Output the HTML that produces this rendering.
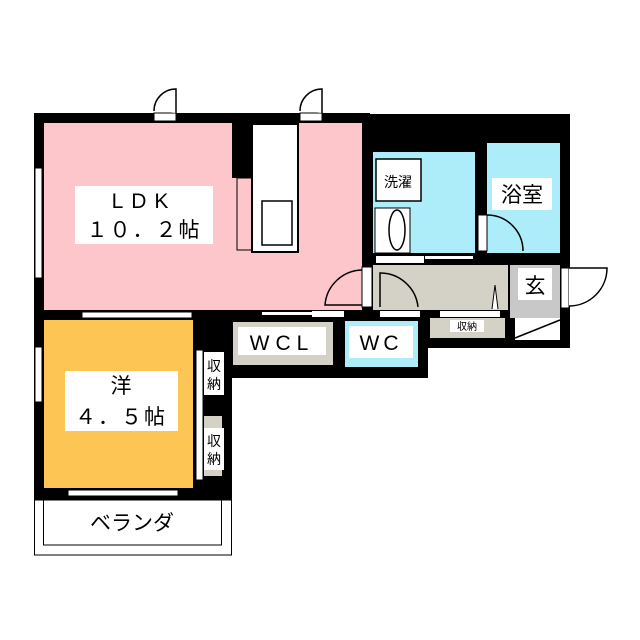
<!DOCTYPE html>
<html><head><meta charset="utf-8"><style>
html,body{margin:0;padding:0;background:#fff}
svg{display:block}
text{font-family:"Liberation Sans","Noto Sans CJK JP",sans-serif;fill:#000}
</style></head><body>
<svg width="640" height="640" viewBox="0 0 640 640" xmlns="http://www.w3.org/2000/svg">
<!-- black masses -->
<rect x="34" y="113" width="336" height="210" fill="#000"/>
<rect x="360" y="114" width="210" height="234" fill="#000"/>
<rect x="222" y="312" width="206" height="66" fill="#000"/>
<rect x="34" y="312" width="198" height="190" fill="#000"/>
<!-- LDK -->
<rect x="44" y="123" width="318" height="187" fill="#fcc6cb"/>
<rect x="232" y="123" width="20" height="55" fill="#000"/>
<rect x="237" y="178" width="16" height="72" fill="#fcc6cb" stroke="#000" stroke-width="1"/>
<rect x="252" y="124" width="46" height="128" fill="#fff" stroke="#000" stroke-width="2"/>
<rect x="262" y="201" width="30" height="44" fill="#fff" stroke="#000" stroke-width="1.5"/>
<rect x="75" y="186" width="138" height="58" fill="#fff"/>
<text x="144" y="208" font-size="21" text-anchor="middle" letter-spacing="8">LDK</text>
<text x="144" y="237" font-size="21" text-anchor="middle" letter-spacing="2">１０．２帖</text>
<!-- top doors -->
<rect x="154" y="113" width="22" height="8" fill="#fff" stroke="#000"/>
<path d="M176 113 V89 A22 22 0 0 0 154 111" fill="#fff" stroke="#000" stroke-width="1.5"/>
<rect x="300" y="113" width="22" height="8" fill="#fff" stroke="#000"/>
<path d="M322 113 V89 A22 22 0 0 0 300 111" fill="#fff" stroke="#000" stroke-width="1.5"/>
<!-- LDK windows -->
<rect x="35" y="168" width="7" height="110" fill="#fff" stroke="#000"/>
<rect x="82" y="312" width="110" height="6" fill="#fff" stroke="#000"/>
<rect x="35" y="347" width="7" height="55" fill="#fff" stroke="#000"/>
<rect x="68" y="490" width="110" height="6" fill="#fff" stroke="#000"/>
<!-- LDK door to hall -->
<path d="M362 270 A38 38 0 0 0 325 305 L362 305" fill="none" stroke="#000" stroke-width="1.5"/>
<rect x="362" y="267" width="10" height="40" fill="#fff" stroke="#000"/>
<!-- laundry -->
<rect x="373" y="152" width="102" height="101" fill="#acedf9"/>
<rect x="376" y="159" width="45" height="42" fill="#fff" stroke="#000" stroke-width="1.5"/>
<text x="398" y="187" font-size="14" text-anchor="middle">洗濯</text>
<rect x="375" y="208" width="35" height="45" fill="#fff" stroke="#000"/>
<ellipse cx="397" cy="230" rx="8" ry="20" fill="none" stroke="#000" stroke-width="1.5"/>
<rect x="376" y="256" width="48" height="7" fill="#fff"/>
<rect x="425" y="256" width="48" height="3" fill="#fff"/>
<!-- bath -->
<rect x="487" y="143" width="73" height="110" fill="#acedf9"/>
<rect x="492" y="178" width="60" height="32" fill="#fff"/>
<text x="522" y="202" font-size="21" text-anchor="middle">浴室</text>
<rect x="478" y="215" width="9" height="36" fill="#fff" stroke="#000"/>
<path d="M487 215 A36 36 0 0 1 523 251" fill="none" stroke="#000" stroke-width="1.5"/>
<!-- hall -->
<rect x="373" y="265" width="135" height="45" fill="#d4d2c6"/>
<path d="M380 307 V273 A38 38 0 0 1 418 307" fill="none" stroke="#000" stroke-width="1.5"/>
<path d="M492 309 L495 285 L498 309" fill="#fff" stroke="#000"/>
<!-- genkan -->
<rect x="510" y="265" width="50" height="53" fill="#c8c8c8"/>
<rect x="518" y="268" width="34" height="32" fill="#fff"/>
<text x="535" y="293" font-size="21" text-anchor="middle">玄</text>
<rect x="515" y="318" width="45" height="22" fill="#fff"/>
<line x1="515" y1="338" x2="560" y2="320" stroke="#000" stroke-width="1.5"/>
<rect x="561" y="268" width="8" height="40" fill="#fff" stroke="#000"/>
<path d="M569 268 H607 A38 38 0 0 1 569 306" fill="#fff" stroke="#000" stroke-width="1.5"/>
<!-- storage -->
<rect x="430" y="318" width="75" height="20" fill="#d4d2c6"/>
<rect x="440" y="311" width="60" height="6" fill="#fff"/>
<rect x="450" y="320" width="34" height="12" fill="#fff"/>
<text x="467" y="330" font-size="10" text-anchor="middle">収納</text>
<rect x="380" y="311" width="40" height="6" fill="#fff"/>
<!-- WCL / WC -->
<rect x="233" y="322" width="100" height="43" fill="#d4d2c6"/>
<rect x="238" y="327" width="88" height="28" fill="#fff"/>
<text x="282" y="350" font-size="21" text-anchor="middle" letter-spacing="6">WCL</text>
<rect x="345" y="321" width="73" height="46" fill="#acedf9"/>
<rect x="349" y="326" width="64" height="32" fill="#fff"/>
<text x="381" y="350" font-size="21" text-anchor="middle" letter-spacing="4">WC</text>
<rect x="262" y="312" width="50" height="3" fill="#fff"/>
<rect x="312" y="311" width="32" height="6" fill="#fff"/>
<!-- western room -->
<rect x="44" y="320" width="149" height="168" fill="#fdc554"/>
<rect x="65" y="371" width="113" height="60" fill="#fff"/>
<text x="121" y="393" font-size="21" text-anchor="middle">洋</text>
<text x="121" y="424" font-size="21" text-anchor="middle" letter-spacing="2">４．５帖</text>
<rect x="196" y="350" width="7" height="130" fill="#fff" stroke="#000"/>
<rect x="204" y="352" width="20" height="43" fill="#fff"/>
<text x="214" y="371" font-size="14" text-anchor="middle">収</text>
<text x="214" y="389" font-size="14" text-anchor="middle">納</text>
<rect x="204" y="416" width="18" height="60" fill="#d4d2c6"/>
<rect x="204" y="428" width="20" height="42" fill="#fff"/>
<text x="214" y="446" font-size="14" text-anchor="middle">収</text>
<text x="214" y="464" font-size="14" text-anchor="middle">納</text>
<!-- balcony -->
<rect x="34.5" y="500" width="197" height="55" fill="#fff" stroke="#000"/>
<rect x="43.5" y="500" width="178" height="45" fill="#fff" stroke="#000"/>
<text x="132" y="530" font-size="21" text-anchor="middle">ベランダ</text>
</svg>
</body></html>
